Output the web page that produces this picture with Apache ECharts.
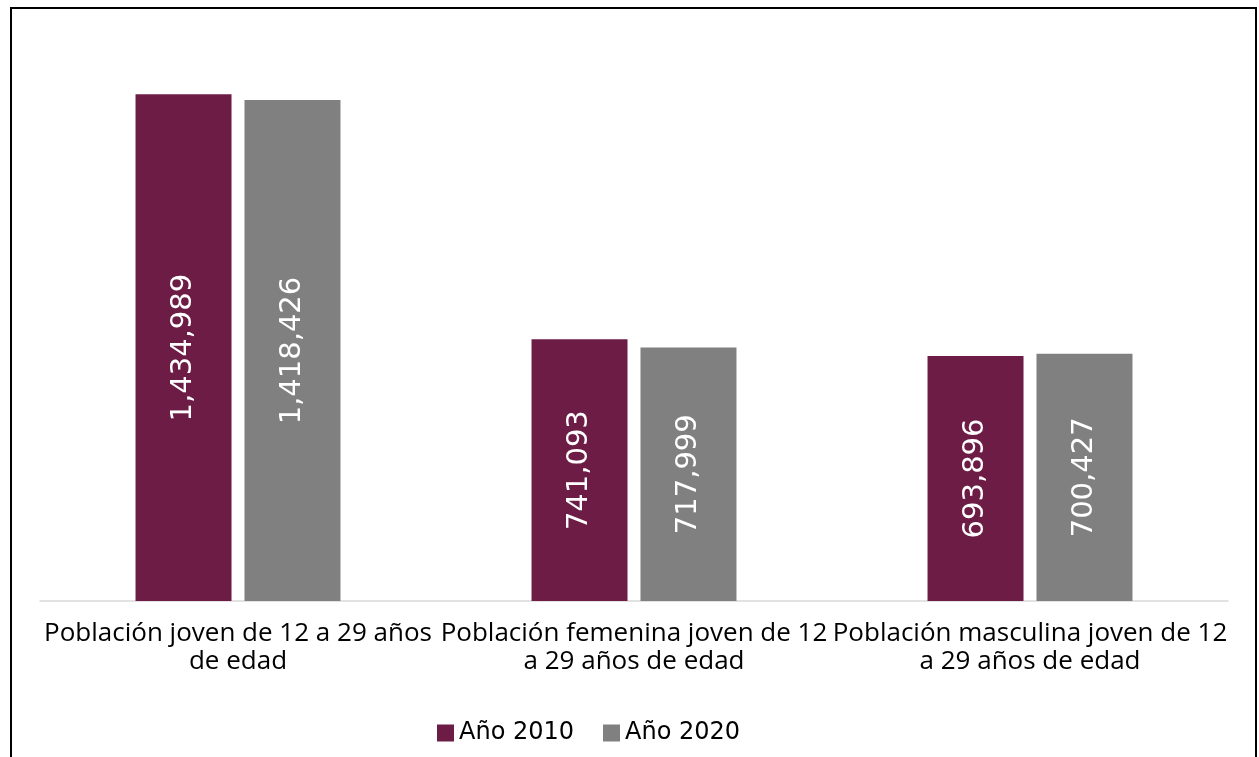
<!DOCTYPE html>
<html>
<head>
<meta charset="utf-8">
<script src="https://cdn.jsdelivr.net/npm/echarts@6/dist/echarts.min.js"></script>
<style>
html,body{margin:0;padding:0;background:#fff;}
#chart{width:1259px;height:757px;}
</style>
</head>
<body>
<div id="chart"></div>
<script>
const categories = [
  "Población joven de 12 a 29 años\nde edad",
  "Población femenina joven de 12\na 29 años de edad",
  "Población masculina joven de 12\na 29 años de edad"
];
const seriesNames = ["Año 2010", "Año 2020"];
const values2010 = [1434989, 741093, 693896];
const values2020 = [1418426, 717999, 700427];
const colors = ["#6D1D45", "#808080"];

const chart = echarts.init(document.getElementById('chart'), null, {renderer: 'canvas'});
const fmt = v => v.toLocaleString('en-US');
const labelCfg = {
  show: true,
  position: 'inside',
  rotate: 90,
  color: '#ffffff',
  fontFamily: 'DejaVu Sans',
  fontSize: 29,
  formatter: p => fmt(p.value)
};
chart.setOption({
  animation: false,
  backgroundColor: '#ffffff',
  graphic: [{
    type: 'rect',
    shape: {x: 11, y: 8, width: 1245, height: 800},
    style: {fill: 'none', stroke: '#000', lineWidth: 2},
    silent: true
  }],
  grid: {left: 40, right: 31, top: 36, bottom: 156},
  legend: {
    left: 432,
    top: 716,
    icon: 'rect',
    itemWidth: 17,
    itemHeight: 17,
    itemGap: 29,
    textStyle: {fontFamily: 'DejaVu Sans', fontSize: 24, color: '#000'},
    data: seriesNames
  },
  xAxis: {
    type: 'category',
    data: categories,
    axisLine: {lineStyle: {color: '#d9d9d9', width: 1.5}},
    axisTick: {show: false},
    axisLabel: {
      interval: 0,
      margin: 19,
      color: '#000',
      fontFamily: 'Open Sans',
      fontSize: 26,
      lineHeight: 28,
      align: 'center'
    }
  },
  yAxis: {
    type: 'value',
    min: 0,
    max: 1600000,
    show: false,
    splitLine: {show: false}
  },
  series: [
    {name: seriesNames[0], type: 'bar', data: values2010, barWidth: 96, barGap: '13.5%',
     itemStyle: {color: colors[0]}, label: labelCfg},
    {name: seriesNames[1], type: 'bar', data: values2020, barWidth: 96, barGap: '13.5%',
     itemStyle: {color: colors[1]}, label: labelCfg}
  ]
});
</script>
</body>
</html>
